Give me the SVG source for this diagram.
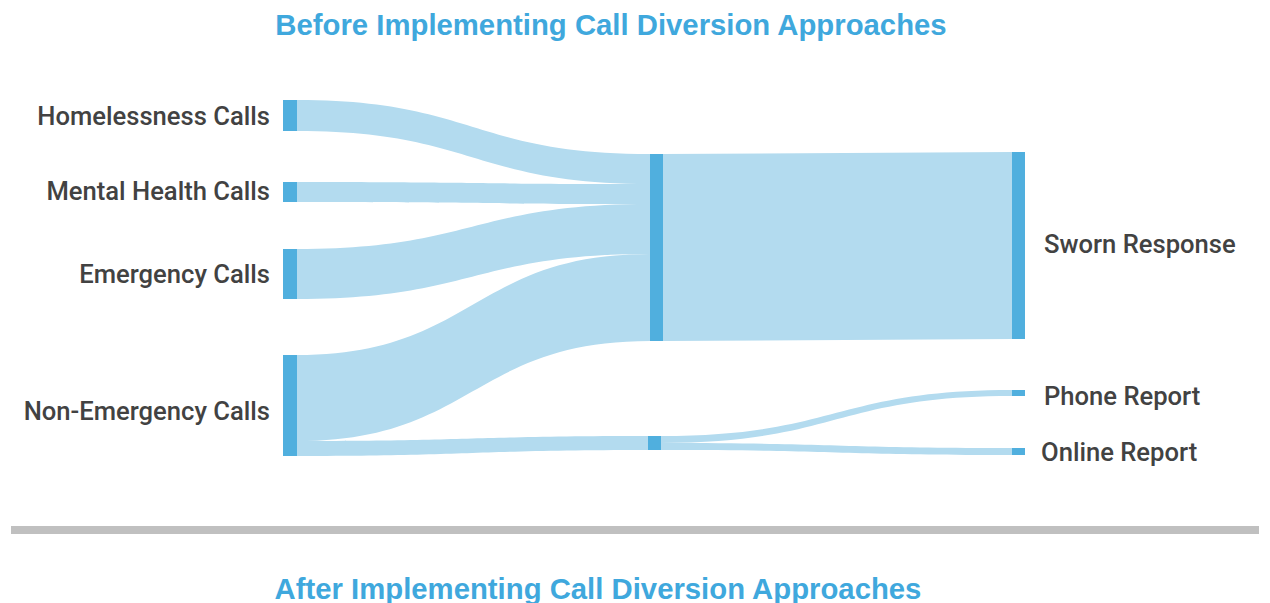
<svg xmlns="http://www.w3.org/2000/svg" width="1270" height="603" viewBox="0 0 1270 603">
  <style>
    .title { font-family: "Liberation Sans", Arial, sans-serif; font-weight: bold; font-size: 29.3px; fill: #3fa8dd; }
    .label { font-family: Roboto, "Liberation Sans", sans-serif; font-size: 25.6px; font-weight: 500; fill: #424242; }
    .node { fill: #50afde; }
    .link { fill: #b3dbef; }
  </style>
  <rect width="1270" height="603" fill="#ffffff"/>

  <text class="title" x="611" y="35" text-anchor="middle">Before Implementing Call Diversion Approaches</text>

  <!-- flows -->
  <g id="links">
    <path class="link" d="M297,100 C473,100 473,154 650,154 L650,184 C473,184 473,131 297,131 Z"/>
    <path class="link" d="M297,182 C473,182 473,184 650,184 L650,204 C473,204 473,202 297,202 Z"/>
    <path class="link" d="M297,249 C473,249 473,204 650,204 L650,254 C473,254 473,299 297,299 Z"/>
    <path class="link" d="M297,355 C473,355 473,254 650,254 L650,341 C473,341 473,441 297,441 Z"/>
    <path class="link" d="M297,441 C473,441 473,436 648,436 L648,450 C473,450 473,456 297,456 Z"/>
    <path class="link" d="M663,154 L1012,152 L1012,339 L663,341 Z"/>
    <path class="link" d="M661,436 C836,436 836,390 1012,390 L1012,396 C836,396 836,443 661,443 Z"/>
    <path class="link" d="M661,443 C836,443 836,448 1012,448 L1012,455 C836,455 836,450 661,450 Z"/>
  </g>

  <g id="homelessness">
    <rect class="node" x="283" y="100" width="14" height="31"/>
    <text class="label" x="270" y="125" text-anchor="end">Homelessness Calls</text>
  </g>
  <g id="mental-health">
    <rect class="node" x="283" y="182" width="14" height="20"/>
    <text class="label" x="270" y="200" text-anchor="end">Mental Health Calls</text>
  </g>
  <g id="emergency">
    <rect class="node" x="283" y="249" width="14" height="50"/>
    <text class="label" x="270" y="283" text-anchor="end">Emergency Calls</text>
  </g>
  <g id="non-emergency">
    <rect class="node" x="283" y="355" width="14" height="101"/>
    <text class="label" x="270" y="420" text-anchor="end">Non-Emergency Calls</text>
  </g>
  <g id="dispatch">
    <rect class="node" x="650" y="154" width="13" height="187"/>
  </g>
  <g id="diverted">
    <rect class="node" x="648" y="436" width="13" height="14"/>
  </g>
  <g id="sworn-response">
    <rect class="node" x="1012" y="152" width="13" height="187"/>
    <text class="label" x="1044" y="253">Sworn Response</text>
  </g>
  <g id="phone-report">
    <rect class="node" x="1012" y="390" width="13" height="6"/>
    <text class="label" x="1044" y="405">Phone Report</text>
  </g>
  <g id="online-report">
    <rect class="node" x="1012" y="448" width="13" height="7"/>
    <text class="label" x="1041" y="461">Online Report</text>
  </g>

  <rect x="11" y="526" width="1248" height="8" fill="#c0c0c0"/>

  <text class="title" x="598" y="599" text-anchor="middle">After Implementing Call Diversion Approaches</text>
</svg>
